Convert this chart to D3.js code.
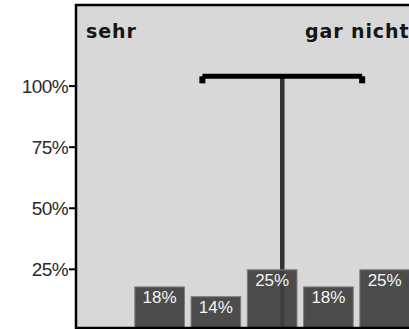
<!DOCTYPE html>
<html lang="de">
<head>
    <meta charset="UTF-8">
    <title>Bewertung</title>
    <script src="https://d3js.org/d3.v7.min.js"></script>
    <style>
        body {
            margin: 0;
            background: #ffffff;
        }
        svg {
            display: block;
        }
        .tick-label {
            font-family: 'Liberation Sans', Arial, sans-serif;
            font-size: 19px;
            letter-spacing: -0.6px;
            fill: #2a2a2a;
        }
        .pole-label {
            font-family: 'DejaVu Sans', Verdana, sans-serif;
            font-weight: bold;
            font-size: 19px;
            letter-spacing: 0.9px;
            fill: #151515;
        }
        .bar-label {
            font-family: 'Liberation Sans', Arial, sans-serif;
            font-size: 17px;
            fill: #f4f4f4;
        }
    </style>
</head>
<body>
    <svg id="chart"></svg>

    <script>
        // answer categories 1 (sehr) .. 5 (gar nicht)
        const categories = [1, 2, 3, 4, 5];
        const shares = [18, 14, 25, 18, 25];
        const yTicks = [25, 50, 75, 100];
        const poleLabels = ['sehr', 'gar nicht'];
        // mean and standard deviation on the 1..5 scale
        const meanValue = 3.18;
        const sdValue = 1.42;
        const errorBarLevel = 104;

        const width = 409;
        const height = 329;
        const frame = { left: 76, top: 5, bottom: 328 };

        const svg = d3.select('#chart')
            .attr('width', width)
            .attr('height', height);

        const y = d3.scaleLinear()
            .domain([0, 100])
            .range([330.4, 86.1]);

        const x = d3.scaleBand()
            .domain(categories)
            .range([131.5, 412.8])
            .paddingInner(0.1)
            .paddingOuter(0.05);

        // continuous position for the mean marker: category centres
        const xc = d3.scaleLinear()
            .domain([1, 5])
            .range([x(1) + x.bandwidth() / 2, x(5) + x.bandwidth() / 2]);

        // plot background
        svg.append('rect')
            .attr('x', frame.left)
            .attr('y', frame.top)
            .attr('width', width - frame.left + 10)
            .attr('height', frame.bottom - frame.top)
            .attr('fill', '#d8d8d8');

        // pole labels
        svg.append('text')
            .attr('class', 'pole-label')
            .attr('x', 86)
            .attr('y', 38)
            .text(poleLabels[0]);

        svg.append('text')
            .attr('class', 'pole-label')
            .attr('x', 305)
            .attr('y', 38)
            .text(poleLabels[1]);

        // mean stem (behind the bars)
        const stemX = xc(meanValue);
        svg.append('line')
            .attr('x1', stemX)
            .attr('x2', stemX)
            .attr('y1', y(errorBarLevel))
            .attr('y2', y(0))
            .attr('stroke', '#333')
            .attr('stroke-width', 4.5);

        // bars
        svg.append('g')
            .selectAll('rect')
            .data(shares)
            .join('rect')
            .attr('x', (d, i) => x(categories[i]) + 0.5)
            .attr('y', d => y(d) + 0.5)
            .attr('width', x.bandwidth() - 1)
            .attr('height', d => y(0) - y(d))
            .attr('fill', '#414141')
            .attr('fill-opacity', 0.93)
            .attr('stroke', '#7c7c7c')
            .attr('stroke-width', 1);

        svg.append('g')
            .selectAll('text')
            .data(shares)
            .join('text')
            .attr('class', 'bar-label')
            .attr('x', (d, i) => x(categories[i]) + x.bandwidth() / 2)
            .attr('y', d => y(d) + 17)
            .attr('text-anchor', 'middle')
            .text(d => d + '%');

        // standard deviation bar
        const sdLeft = xc(meanValue - sdValue);
        const sdRight = xc(meanValue + sdValue);
        svg.append('line')
            .attr('x1', sdLeft)
            .attr('x2', sdRight)
            .attr('y1', y(errorBarLevel))
            .attr('y2', y(errorBarLevel))
            .attr('stroke', '#000')
            .attr('stroke-width', 5);

        svg.append('g')
            .selectAll('rect')
            .data([sdLeft, sdRight])
            .join('rect')
            .attr('x', d => d - 3)
            .attr('y', y(errorBarLevel))
            .attr('width', 6)
            .attr('height', 7)
            .attr('fill', '#000');

        // frame: left, top and bottom borders
        svg.append('path')
            .attr('d', `M${width + 5},${frame.top}H${frame.left}V${frame.bottom}H${width + 5}`)
            .attr('fill', 'none')
            .attr('stroke', '#000')
            .attr('stroke-width', 2.5);

        // y axis ticks
        const tickG = svg.append('g')
            .selectAll('g')
            .data(yTicks)
            .join('g')
            .attr('transform', d => `translate(0,${y(d)})`);

        tickG.append('line')
            .attr('x1', 69)
            .attr('x2', frame.left)
            .attr('stroke', '#000')
            .attr('stroke-width', 2);

        tickG.append('text')
            .attr('class', 'tick-label')
            .attr('x', 68)
            .attr('dy', '0.36em')
            .attr('text-anchor', 'end')
            .text(d => d + '%');
    </script>
</body>
</html>
